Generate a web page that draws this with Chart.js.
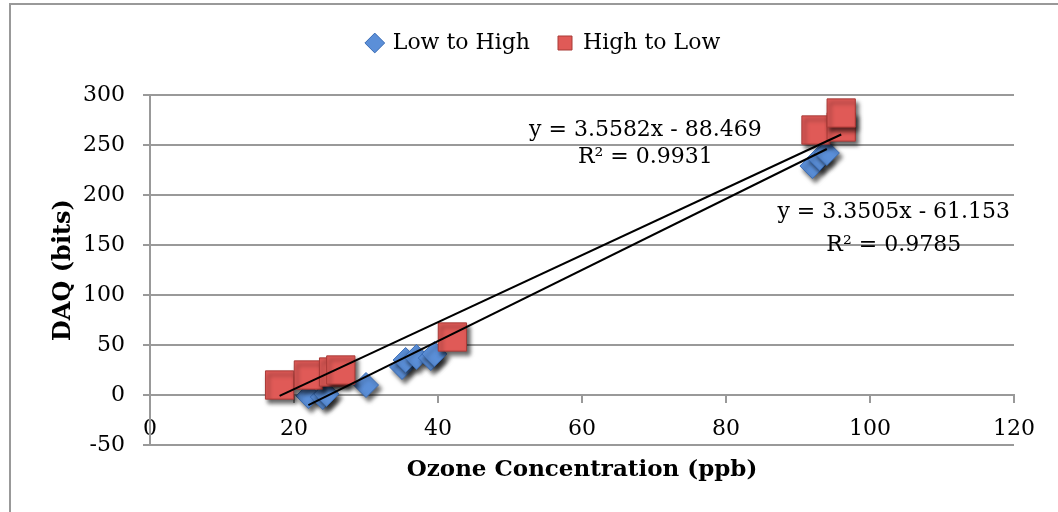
<!DOCTYPE html>
<html>
<head>
<meta charset="utf-8">
<script src="https://cdn.jsdelivr.net/npm/chart.js@4.4.0/dist/chart.umd.min.js"></script>
<style>
  html, body { margin: 0; padding: 0; background: #fff; }
</style>
</head>
<body>
<canvas id="ozone" width="1058" height="512"></canvas>
<script>
// values
var lowHighX = [22, 24, 24.5, 30, 35, 35.5, 37, 39, 39.5, 92, 93, 94];
var lowHighY = [-1, -2, 1, 10, 28, 35, 38, 37, 41, 229, 237, 242];
var highLowX = [18, 22, 25.5, 26.5, 42, 92.5, 96, 96];
var highLowY = [10, 20, 23, 25, 58, 265, 268, 282];
var xTicks = [0, 20, 40, 60, 80, 100, 120];
var yTicks = [-50, 0, 50, 100, 150, 200, 250, 300];
// trendline fits [slope, intercept, r2]
var fitLowHigh = [3.5582, -88.469, 0.9931];
var fitHighLow = [3.3505, -61.153, 0.9785];

function points(xs, ys) {
    return xs.map(function (x, i) { return {x: x, y: ys[i]}; });
}
function trend(xs, fit) {
    var lo = Math.min.apply(null, xs), hi = Math.max.apply(null, xs);
    return [{x: lo, y: fit[0] * lo + fit[1]}, {x: hi, y: fit[0] * hi + fit[1]}];
}
function eqText(fit) {
    return 'y = ' + fit[0].toFixed(4) + 'x - ' + Math.abs(fit[1]).toFixed(3);
}

var frame = {
    id: 'frame',
    beforeDraw: function (chart) {
        var c = chart.ctx;
        c.save();
        c.fillStyle = '#fff';
        c.fillRect(0, 0, chart.width, chart.height);
        c.strokeStyle = '#999';
        c.lineWidth = 2;
        c.strokeRect(10, 4, chart.width + 20, chart.height + 20);
        c.restore();
    }
};

var shadow = {
    id: 'shadow',
    beforeDatasetDraw: function (chart, args) {
        if (args.index > 1) return;
        var c = chart.ctx;
        c.save();
        c.shadowColor = 'rgba(0,0,0,0.6)';
        c.shadowOffsetX = 3;
        c.shadowOffsetY = 4;
        c.shadowBlur = 4;
    },
    afterDatasetDraw: function (chart, args) {
        if (args.index > 1) return;
        chart.ctx.restore();
    }
};

var equations = {
    id: 'equations',
    afterDatasetsDraw: function (chart) {
        var c = chart.ctx, sx = chart.scales.x, sy = chart.scales.y;
        c.save();
        c.fillStyle = '#000';
        c.font = '22px "DejaVu Serif"';
        c.textAlign = 'center';
        c.textBaseline = 'middle';
        c.fillText(eqText(fitLowHigh), sx.getPixelForValue(68.8), sy.getPixelForValue(265));
        c.fillText('R² = ' + fitLowHigh[2].toFixed(4), sx.getPixelForValue(68.8), sy.getPixelForValue(238));
        c.fillText(eqText(fitHighLow), sx.getPixelForValue(103.3), sy.getPixelForValue(183));
        c.fillText('R² = ' + fitHighLow[2].toFixed(4), sx.getPixelForValue(103.3), sy.getPixelForValue(150));
        c.restore();
    }
};

var legendSpace = {
    id: 'legendSpace',
    beforeInit: function (chart) {
        var fit = chart.legend.fit;
        chart.legend.fit = function () {
            fit.call(this);
            this.height = 91;
        };
    }
};

var ctx = document.getElementById('ozone').getContext('2d');

var chart = new Chart(ctx, {
    type: 'scatter',
    data: {
        datasets: [{
            label: 'Low to High',
            data: points(lowHighX, lowHighY),
            pointStyle: 'rectRot',
            pointRadius: 12.5,
            backgroundColor: '#5b8fd8',
            borderColor: '#3c6db5',
            borderWidth: 1,
            order: 2
        }, {
            label: 'High to Low',
            data: points(highLowX, highLowY),
            pointStyle: 'rect',
            pointRadius: 20,
            backgroundColor: '#e05a57',
            borderColor: '#a83a37',
            borderWidth: 1,
            order: 1
        }, {
            type: 'line',
            label: 'trend LH',
            data: trend(lowHighX, fitLowHigh),
            borderColor: '#000',
            borderWidth: 2,
            pointRadius: 0,
            fill: false,
            order: 0
        }, {
            type: 'line',
            label: 'trend HL',
            data: trend(highLowX, fitHighLow),
            borderColor: '#000',
            borderWidth: 2,
            pointRadius: 0,
            fill: false,
            order: 0
        }]
    },
    options: {
        responsive: false,
        animation: false,
        events: [],
        layout: {padding: {top: 4, left: 74, right: 44, bottom: 67}},
        scales: {
            x: {
                type: 'linear',
                position: {y: 0},
                min: 0,
                max: 120,
                afterBuildTicks: function (scale) {
                    scale.ticks = xTicks.map(function (v) { return {value: v}; });
                },
                grid: {drawOnChartArea: false, drawTicks: true, tickLength: 7, color: '#999', lineWidth: 2},
                border: {display: true, color: '#999', width: 2},
                ticks: {color: '#000', padding: 14, font: {family: 'DejaVu Serif', size: 22}},
                title: {
                    display: true,
                    text: 'Ozone Concentration (ppb)',
                    color: '#000',
                    padding: {top: 0, bottom: 0},
                    font: {family: 'DejaVu Serif', size: 23, weight: 'bold'}
                }
            },
            y: {
                type: 'linear',
                position: 'left',
                min: -50,
                max: 300,
                afterBuildTicks: function (scale) {
                    scale.ticks = yTicks.map(function (v) { return {value: v}; });
                },
                afterFit: function (scale) { scale.width = 76; },
                grid: {color: '#999', lineWidth: 2, tickLength: 7},
                border: {display: true, color: '#999', width: 2},
                ticks: {color: '#000', padding: 18, font: {family: 'DejaVu Serif', size: 22}},
                title: {
                    display: true,
                    text: 'DAQ (bits)',
                    color: '#000',
                    padding: {top: -25, bottom: 0},
                    font: {family: 'DejaVu Serif', size: 24, weight: 'bold'}
                }
            }
        },
        plugins: {
            tooltip: {enabled: false},
            legend: {
                position: 'top',
                labels: {
                    usePointStyle: true,
                    boxWidth: 14,
                    boxHeight: 14,
                    padding: 28,
                    color: '#000',
                    font: {family: 'DejaVu Serif', size: 22},
                    filter: function (item) { return item.datasetIndex < 2; },
                    sort: function (a, b) { return a.datasetIndex - b.datasetIndex; }
                }
            }
        }
    },
    plugins: [frame, shadow, equations, legendSpace]
});
</script>
</body>
</html>
